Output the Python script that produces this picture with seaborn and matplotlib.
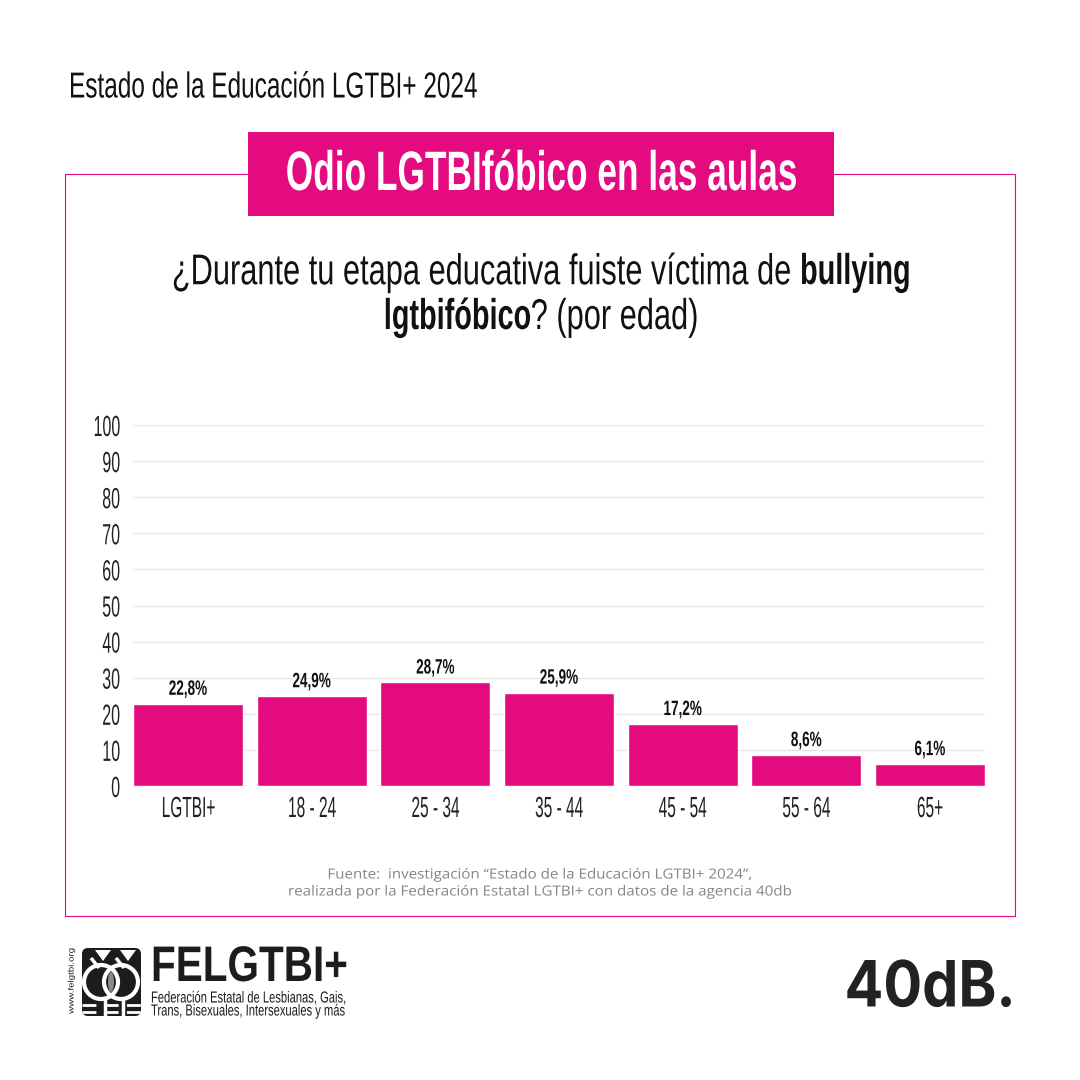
import matplotlib
matplotlib.use("Agg")
import matplotlib.pyplot as plt
from matplotlib.patches import Rectangle, Circle, Polygon, Ellipse, FancyBboxPatch
from matplotlib.patheffects import AbstractPathEffect
from matplotlib.transforms import Affine2D, Bbox
import pandas as pd
import seaborn as sns

categories = ["LGTBI+", "18 - 24", "25 - 34", "35 - 44", "45 - 54", "55 - 64", "65+"]
values = [22.8, 24.9, 28.7, 25.9, 17.2, 8.6, 6.1]
value_labels = ["22,8%", "24,9%", "28,7%", "25,9%", "17,2%", "8,6%", "6,1%"]
y_ticks = [0, 10, 20, 30, 40, 50, 60, 70, 80, 90, 100]

PINK = "#e30b7f"
DARK = "#1c1c1c"


class Squeeze(AbstractPathEffect):
    # no condensed font is installed, so squeeze the glyphs sideways around an anchor
    def __init__(self, sx, anchor="center"):
        super().__init__()
        self.sx = sx
        self.anchor = anchor

    def draw_path(self, renderer, gc, tpath, affine, rgbFace=None):
        box = tpath.get_extents(affine)
        pivot = {"left": affine.get_matrix()[0, 2], "center": (box.x0 + box.x1) / 2, "right": box.x1}[self.anchor]
        squeezed = affine + Affine2D().translate(-pivot, 0).scale(self.sx, 1).translate(pivot, 0)
        renderer.draw_path(gc, tpath, squeezed, rgbFace)


sns.set_theme(style="white")
plt.rcParams["font.family"] = ["Liberation Sans", "DejaVu Sans"]

fig = plt.figure(figsize=(10.8, 10.8), dpi=100, facecolor="white")

# background layer in pixel coordinates
bg = fig.add_axes([0, 0, 1, 1])
bg.set_xlim(0, 1080)
bg.set_ylim(1080, 0)
bg.axis("off")


def put(x, y, s, sx, ha="left", **kw):
    t = bg.text(x, y, s, ha=ha, va="center", **kw)
    t.set_path_effects([Squeeze(sx, ha)])
    return t


bg.add_patch(Rectangle((65, 174), 950, 742, fill=False, ec=PINK, lw=0.8))
bg.add_patch(Rectangle((248, 132), 586, 84, fc=PINK, ec="none", zorder=3))
put(69, 88, "Estado de la Educación LGTBI+ 2024", 0.675, fontsize=26, color="#111111")
put(541, 176, "Odio LGTBIfóbico en las aulas", 0.635, ha="center", fontsize=40,
    fontweight="bold", color="white", zorder=4)


def mixed_line(y, parts, size=31):
    # centre a line of regular and bold pieces
    r = fig.canvas.get_renderer()
    pieces = []
    for s, w, sx in parts:
        t = bg.text(0, y, s, fontsize=size, fontweight=w, color="#111111", va="center")
        t.set_path_effects([Squeeze(sx, "left")])
        pieces.append((t, t.get_window_extent(r).width * sx, sx))
    x = 541 - sum(p[1] for p in pieces) / 2
    for t, w, sx in pieces:
        t.set_x(x)
        x += w
        # report the squeezed box, since that is what gets drawn
        full = t.get_window_extent

        def squeezed_box(renderer=None, dpi=None, full=full, sx=sx):
            b = full(renderer, dpi)
            return Bbox.from_extents(b.x0, b.y0, b.x0 + b.width * sx, b.y1)

        t.get_window_extent = squeezed_box


mixed_line(273, [("¿Durante tu etapa educativa fuiste víctima de ", "normal", 0.715), ("bullying", "bold", 0.67)])
mixed_line(318, [("lgtbifóbico", "bold", 0.67), ("? (por edad)", "normal", 0.715)])

put(540, 875, "Fuente:  investigación “Estado de la Educación LGTBI+ 2024”,", 1.09, ha="center",
    family="Open Sans", fontsize=10, color="#858585")
put(540, 892, "realizada por la Federación Estatal LGTBI+ con datos de la agencia 40db", 1.09, ha="center",
    family="Open Sans", fontsize=10, color="#858585")

# FELGTBI+ logo, rough version
bg.add_patch(FancyBboxPatch((85, 951), 53, 62, boxstyle="round,pad=3,rounding_size=6", fc=DARK, ec="none"))
for cx in (101, 121):
    bg.add_patch(Circle((cx, 982), 17, fc="none", ec="white", lw=3))
bg.add_patch(Ellipse((111, 982), 6, 20, fc="#8a8a8a", ec="none"))
for px, tip in ((103, 949), (128, 949)):
    bg.add_patch(Polygon([(px - 8, tip + 1), (px + 8, tip + 1), (px, tip + 12)], fc="white", ec="none"))
    bg.plot([px - 4, px - 12], [tip + 19, tip + 9], color="white", lw=2.5, solid_capstyle="butt")
for y in (1005, 1012):
    bg.plot([82, 141], [y, y], color="white", lw=2, dashes=(5, 3))
for px in (105, 123):
    bg.plot([px, px], [999, 1016], color="white", lw=2.5)
put(71, 981, "www.felgtbi.org", 0.8, ha="center", fontsize=7, rotation=90, color=DARK)
put(151, 968, "FELGTBI+", 0.81, fontsize=36, fontweight="bold", color=DARK)
put(151, 998, "Federación Estatal de Lesbianas, Gais,", 0.7, fontsize=11.5, color=DARK)
put(151, 1011, "Trans, Bisexuales, Intersexuales y más", 0.7, fontsize=11.5, color=DARK)
put(1016, 990, "40dB.", 0.9, ha="right", family="Inter", fontsize=46, fontweight="bold", color="#222222")

# chart axes: x 133-985, y 425-786 in pixels
ax = fig.add_axes([133 / 1080, 1 - 786 / 1080, 852 / 1080, 361 / 1080])
ax.patch.set_alpha(0)
df = pd.DataFrame({"grupo": categories, "valor": values})
sns.barplot(data=df, x="grupo", y="valor", color=PINK, saturation=1, width=0.89, ax=ax, zorder=3)
ax.set_xlim(-0.445, 6.445)
ax.set_ylim(0, 100)
ax.set_yticks(y_ticks)
ax.set_xlabel("")
ax.set_ylabel("")
ax.grid(axis="y", color="#e8e5e7", lw=0.9, zorder=0)
ax.set_axisbelow(True)
sns.despine(ax=ax, left=True, bottom=True)
ax.tick_params(axis="y", length=0, labelsize=21, pad=9, labelcolor="#222222")
ax.tick_params(axis="x", length=0, labelsize=21, pad=6.5, labelcolor="#222222")
for lab in ax.get_yticklabels():
    lab.set_path_effects([Squeeze(0.55, "right")])
for lab in ax.get_xticklabels():
    lab.set_path_effects([Squeeze(0.53, "center")])
for lab in ax.bar_label(ax.containers[0], labels=value_labels, padding=3.5, fontsize=15,
                        fontweight="bold", color="#111111"):
    lab.set_path_effects([Squeeze(0.65, "center")])

fig.savefig("out.png", dpi=100, facecolor="white")
